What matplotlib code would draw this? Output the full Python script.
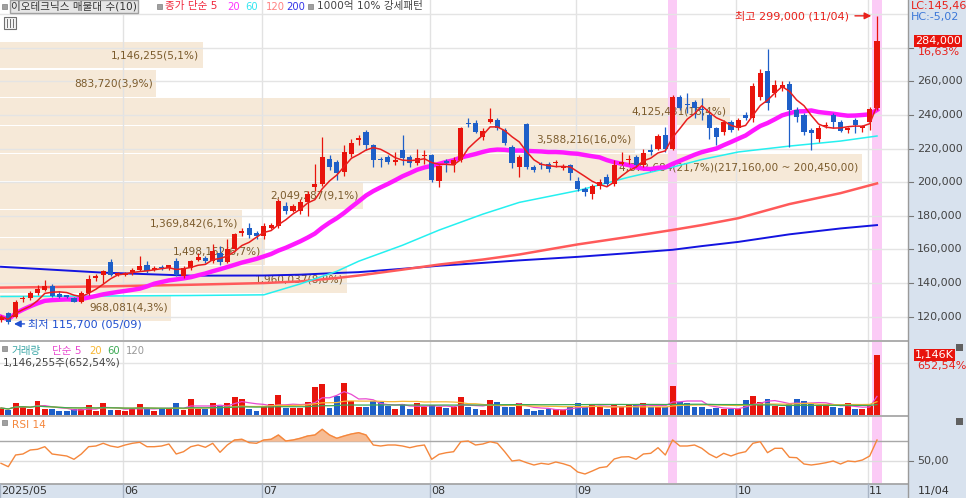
import numpy as np
import pandas as pd
import matplotlib
matplotlib.use("Agg")
import matplotlib.pyplot as plt
import matplotlib.transforms as mtransforms
from matplotlib.patches import Rectangle
from matplotlib.lines import Line2D

plt.rcParams['font.family'] = ['DejaVu Sans', 'Noto Sans CJK KR']

# ---- data (prices in thousand won, volume in thousand shares) ----
opens = [118, 122, 120, 130.5, 131, 134, 136, 138.5, 133.5, 132.5, 131, 129, 134, 143, 145, 152.7, 145, 145,
         146, 148, 151, 148, 149.5, 149, 153, 144, 149, 154, 155, 153, 158, 152.7, 160, 170, 172.7, 170,
         168, 173, 174, 186, 183, 183, 188, 197, 199, 214, 212, 206, 217, 225, 230, 222, 213.5, 215, 212,
         219, 215, 211.7, 215.5, 216, 200.5, 212.5, 210.5, 213, 235.5, 235, 227, 236, 237, 231, 221, 209,
         234.7, 209, 211, 211, 211.5, 208.5, 210, 201, 196, 193, 198, 203, 199, 211, 213, 215, 210.5, 219,
         220, 228, 220, 250.6, 246.8, 247.5, 243.5, 240, 232, 230, 236, 232, 240, 238, 251, 266, 253, 256,
         258.5, 243, 240, 231, 226, 233.5, 240, 236, 231, 237, 232.5, 235.7, 244]
highs = [121, 123, 130, 132.5, 135, 139, 142, 139.5, 135, 133, 132, 135, 145, 145.5, 148, 154.5, 146.5, 146.5,
         149, 156, 153, 150, 150.5, 151, 155, 150, 154, 158, 156, 163, 162, 166, 170, 173, 176, 171,
         176, 176, 190, 188, 187, 190, 195, 211, 227, 216, 213, 222, 226, 228, 231, 223, 215, 216, 218,
         228, 216, 220, 219, 217, 210.5, 214, 215, 233, 238, 237, 232, 244, 238, 232, 222, 216,
         235, 210, 212, 212, 213, 211, 211, 203, 197, 199, 202, 205, 213, 218, 216, 216, 220, 223,
         228.5, 233, 252, 252, 253, 249, 250, 241, 233, 237, 237, 238, 242, 259, 267.5, 279.5, 261, 260,
         260, 245, 241, 232, 234, 236, 241, 237, 233, 238, 234, 245, 299]
lows = [117, 115.7, 119, 129, 130, 133, 135, 132, 131, 131, 128.5, 128, 133, 141, 140, 144, 144, 144,
        145, 147, 146, 147, 148, 148, 144, 143, 148, 153, 152, 152, 151, 152, 159, 168, 167, 166,
        166, 172, 173, 181, 182, 181, 180, 195, 198, 207, 201.6, 204, 215, 222, 219, 209, 209, 211, 210,
        210, 209, 210, 211, 200, 197, 206, 206, 212, 233, 229, 225, 235, 231, 222, 208.7, 203,
        208, 206, 208, 206, 209, 207, 201.6, 195, 192, 190, 196, 198, 198, 210, 211, 209, 209, 216,
        219, 218, 219, 243, 241, 238, 237, 226, 222, 228, 230, 231, 237, 236, 249, 243, 251, 254,
        221, 236, 228, 219, 224, 232, 232, 230, 229, 229, 230, 231, 243]
closes = [120, 116.9, 129, 131, 134, 136.7, 138.5, 132.6, 132, 132, 129, 134, 142.6, 144, 147, 145, 145.8, 145.5,
          148, 150, 147, 149, 149, 150.5, 145, 149, 153, 155.5, 153, 159, 152.7, 160, 169, 171, 168.6, 168,
          174, 174.5, 188.7, 182.8, 185.7, 188, 193, 198.7, 215, 209, 205.7, 218, 223.5, 226.5, 222, 213, 213, 212, 213,
          214.6, 211.7, 214.6, 216, 201.6, 209.5, 211.5, 213, 232, 234.5, 230, 230.5, 237.6, 232, 223.5, 211.7, 215,
          209, 207.5, 210, 208, 212, 209.5, 205.7, 196, 194, 197.5, 200, 199, 210, 212, 213.5, 210.5, 217.6, 218,
          227.6, 219.5, 250.6, 244, 245.8, 244, 243, 232, 227, 236, 231, 237, 238, 257, 265, 247, 258, 257.6,
          243, 239, 230, 229, 232, 234, 236, 230.6, 232.5, 234, 233.5, 243.5, 284]
volumes = [134, 96, 229, 172, 115, 267, 115, 115, 76, 67, 115, 115, 191, 76, 229, 96, 96, 67,
           115, 210, 115, 76, 115, 115, 229, 96, 306, 115, 115, 229, 172, 229, 344, 306, 115, 76,
           172, 210, 382, 134, 134, 134, 248, 535, 592, 134, 363, 611, 267, 153, 153, 267, 248, 172, 115,
           210, 115, 229, 153, 191, 153, 134, 153, 344, 153, 115, 96, 287, 248, 153, 153, 229,
           115, 76, 96, 115, 115, 96, 153, 229, 153, 191, 153, 115, 191, 153, 191, 191, 229, 153,
           153, 153, 554, 248, 229, 153, 153, 115, 134, 115, 115, 115, 287, 363, 248, 306, 172, 153,
           210, 306, 267, 210, 191, 191, 153, 134, 229, 115, 115, 172, 1146.255]
rsi14 = [47.7, 44.3, 56, 57, 61, 61.7, 64.3, 57, 56, 55, 51.7, 57, 64.3, 65, 67.7, 65, 63.7, 66,
         67.7, 68.7, 64.3, 64.3, 65, 67, 57, 59.3, 64.3, 66, 63.7, 67.7, 58.7, 66, 71, 71.7, 68.3, 67.7,
         71, 71.7, 76, 70, 71, 72.7, 75, 76, 81.7, 76, 72.7, 75, 77, 78.3, 76, 66, 65, 66, 66,
         65, 63.3, 65, 66, 51.7, 56.7, 58.3, 59.3, 69.3, 70, 66, 67, 69.3, 67.7, 59.3, 50, 51,
         48.3, 46, 47.7, 46.7, 49, 47.3, 45, 39, 37, 40, 43.3, 44.3, 52, 54, 54.3, 51.7, 57, 57.7,
         63.3, 56, 71, 65, 65, 66, 62.7, 57, 53.3, 57.7, 55, 57.7, 59.3, 67.7, 69.3, 58.3, 62.7, 62.7,
         53.7, 53.3, 47, 46, 47, 48.3, 50, 47, 50, 49.3, 51, 55, 71]

# long moving averages (they need history before the window)
ma_idx = [0, 14, 26, 36, 41, 46, 49, 55, 60, 66, 71, 79, 86, 92, 96, 101, 108, 115, 120]
ma60_read = [132, 132.3, 132.6, 133, 139.5, 147, 153, 162.5, 171.5, 181, 188, 195, 203, 209, 213.5,
             218, 221.5, 224.5, 227.5]
ma120_read = [137.3, 138, 139, 140, 141, 143, 144.5, 148, 151, 154, 157, 163, 167.5, 171.6, 174.5,
              178.6, 187, 193.5, 199.3]
ma200_read = [149.7, 146.2, 144.4, 144.5, 145, 146, 146.5, 148.5, 150.3, 152, 153.5, 155.6, 157.8,
              159.8, 162, 164.5, 169, 172.5, 174.5]

# volume profile (매물대), bottom band first
band_top_range = (200450, 217160)
band_vol = [968081, 1960037, 1498152, 1369842, 2049287, 4872684, 3588216, 4125431, 883720, 1146255]
band_pct = [4.3, 8.8, 6.7, 6.1, 9.1, 21.7, 16.0, 18.4, 3.9, 5.1]

month_idx = [0, 17, 36, 59, 79, 101, 119]
month_lab = ['2025/05', '06', '07', '08', '09', '10', '11']
strong_idx = [92, 120]
low_idx, high_idx = 1, 120

o = np.array(opens) * 1000
h = np.array(highs) * 1000
l = np.array(lows) * 1000
c = np.array(closes) * 1000
v = np.array(volumes) * 1000
rsi = np.array(rsi14)
idx = np.arange(len(c))

UP, DN = '#E8140C', '#1E5FC8'
W, H = 966, 498
fig = plt.figure(figsize=(W / 100, H / 100), dpi=100)


def rect(x0, y0, x1, y1):
    return [x0 / W, 1 - y1 / H, (x1 - x0) / W, (y1 - y0) / H]


def ftext(x, y, s, **kw):
    kw.setdefault('fontsize', 8)
    fig.text(x / W, 1 - y / H, s, va='center', ha=kw.pop('ha', 'left'), **kw)


# background areas
fig.patches.append(Rectangle((908 / W, 0), 58 / W, 1, transform=fig.transFigure,
                             color='#D8E2EE', zorder=-5))
fig.patches.append(Rectangle((0, 0), 1, 14 / H, transform=fig.transFigure,
                             color='#D8E2EE', zorder=-5))

ax_p = fig.add_axes(rect(0, 0, 908, 340))
ax_v = fig.add_axes(rect(0, 342, 908, 415))
ax_r = fig.add_axes(rect(0, 417, 908, 483))
x_lo = -1 / 7.3
x_hi = x_lo + 908 / 7.3
for ax in (ax_p, ax_v, ax_r):
    ax.set_xlim(x_lo, x_hi)
    for s in ax.spines.values():
        s.set_visible(False)
    ax.set_xticks([])
    ax.set_yticks([])
    for m in month_idx[1:]:
        ax.axvline(m - 0.3, color='#E2E2E2', lw=1, zorder=1)
    for s in strong_idx:
        ax.axvspan(s - 0.62, s + 0.62, color='#FBCBF6', lw=0, zorder=0.6)

ax_p.set_ylim(106125, 308425)
ax_v.set_ylim(0, 1394000)
ax_r.set_ylim(28, 94)

# ---- price panel ----
for p in range(120000, 300001, 20000):
    ax_p.axhline(p, color='#E4E4E4', lw=1, zorder=1)

step = band_top_range[1] - band_top_range[0]
base = band_top_range[0] - 5 * step
centers = base + step * (np.arange(len(band_vol)) + 0.5)
widths = np.array(band_vol) / max(band_vol) * 118.1
ax_p.barh(centers, widths, height=step * 0.95, left=x_lo, color='#F6E9D8', zorder=0.5)
for cy, wd, vol, pc in zip(centers, widths, band_vol, band_pct):
    lab = f"{vol:,}({pc:.1f}%)".replace('.', ',')
    if vol == max(band_vol):
        lab += f"({band_top_range[1]:,}.00 ~ {band_top_range[0]:,}.00)".replace('.', ',')
    ax_p.text(x_lo + wd - 0.5, cy, lab, ha='right', va='center', fontsize=7.6,
              color='#7B5B2C', zorder=2)

ma5 = pd.Series(c).rolling(5, min_periods=1).mean()
ma20 = pd.Series(c).rolling(20, min_periods=1).mean()
ax_p.plot(np.array(ma_idx), np.array(ma200_read) * 1000, color='#1414E0', lw=1.4, zorder=3)
ax_p.plot(np.array(ma_idx), np.array(ma120_read) * 1000, color='#FF5A5A', lw=1.8, zorder=3)
ax_p.plot(np.array(ma_idx), np.array(ma60_read) * 1000, color='#25F0F0', lw=1.1, zorder=3)
ax_p.plot(idx, ma20, color='#FF19FF', lw=3.2, zorder=3.5)

up = c >= o
col = np.where(up, UP, DN)
ax_p.vlines(idx, l, h, colors=col, lw=0.9, zorder=4)
body = np.maximum(np.abs(c - o), 700)
ax_p.bar(idx, body, bottom=np.minimum(o, c), width=0.7, color=col, zorder=4.2)
ax_p.plot(idx, ma5, color='#E81E1E', lw=1.1, zorder=5)

# high / low markers
ax_p.annotate('', xy=(high_idx - 0.4, h[high_idx]), xytext=(high_idx - 3.4, h[high_idx]),
              arrowprops=dict(arrowstyle='-|>', color='#E8201A', lw=1), zorder=6)
ax_p.text(high_idx - 3.8, h[high_idx], f"최고 {h[high_idx]:,.0f} (11/04)", ha='right',
          va='center', fontsize=8, color='#E8201A', zorder=6)
ax_p.annotate('', xy=(low_idx + 0.4, l[low_idx]), xytext=(low_idx + 2.6, l[low_idx]),
              arrowprops=dict(arrowstyle='-|>', color='#2050D0', lw=1), zorder=6)
ax_p.text(low_idx + 2.7, l[low_idx], f"최저 {l[low_idx]:,.0f} (05/09)", ha='left',
          va='center', fontsize=8, color='#2050D0', zorder=6)

# right price axis
ytr = ax_p.get_yaxis_transform()
for p in range(120000, 280001, 20000):
    ax_p.plot([1.0, 1.006], [p, p], transform=ytr, clip_on=False, color='#777', lw=0.8)
    if p < 280000:
        ax_p.text(1.0 + 9 / 908, p, f"{p:,}", transform=ytr, ha='left', va='center',
                  fontsize=8, color='#444')
ax_p.text(1.0 + 7 / 908, c[-1], f"{c[-1]:,.0f}", transform=ytr, ha='left', va='center',
          fontsize=8, color='white',
          bbox=dict(facecolor='#E8140C', edgecolor='none', boxstyle='square,pad=0.12'))
chg = (c[-1] / c[-2] - 1) * 100
ax_p.annotate(f"{chg:.2f}%".replace('.', ','), xy=(1.0 + 10 / 908, c[-1]), xycoords=ytr,
              xytext=(0, -8), textcoords='offset points', ha='left', va='center',
              fontsize=8, color='#E8201A')

# ---- volume panel ----
ax_v.axhline(1000000, color='#E4E4E4', lw=1, zorder=1)
ax_v.bar(idx, v, width=0.82, color=col, zorder=3)
vs = pd.Series(v)
ax_v.plot(idx, vs.rolling(5, min_periods=1).mean(), color='#E84AD0', lw=0.9, zorder=4)
ax_v.plot(idx, vs.rolling(20, min_periods=1).mean(), color='#F7B733', lw=0.9, zorder=4)
ax_v.plot(idx, vs.rolling(60, min_periods=1).mean(), color='#3DAA55', lw=0.9, zorder=4)
vtr = ax_v.get_yaxis_transform()
ax_v.text(1.0 + 7 / 908, v[-1], f"{v[-1] / 1000:,.0f}K", transform=vtr, ha='left', va='center',
          fontsize=8, color='white',
          bbox=dict(facecolor='#E8140C', edgecolor='none', boxstyle='square,pad=0.12'))
ax_v.annotate("652,54%", xy=(1.0 + 9 / 908, v[-1]), xycoords=vtr, xytext=(0, -8),
              textcoords='offset points', ha='left', va='center', fontsize=8, color='#E8201A')

# ---- RSI panel ----
ax_r.axhline(70, color='#A8A8A8', lw=1, zorder=1)
ax_r.axhline(50, color='#DDDDDD', lw=1, zorder=1)
ax_r.fill_between(idx, 70, rsi, where=rsi > 70, interpolate=True, color='#F6BC94', zorder=2)
ax_r.plot(idx, rsi, color='#F5873C', lw=1, zorder=3)
rtr = ax_r.get_yaxis_transform()
ax_r.plot([1.0, 1.006], [50, 50], transform=rtr, clip_on=False, color='#777', lw=0.8)
ax_r.text(1.0 + 9 / 908, 50, "50,00", transform=rtr, ha='left', va='center', fontsize=8, color='#444')

# separators
for yy in (341, 416, 483.5):
    fig.lines.append(Line2D([0, 908 / W], [1 - yy / H] * 2, transform=fig.transFigure,
                            color='#A0A0A0', lw=1.2))
fig.lines.append(Line2D([908 / W] * 2, [0, 1], transform=fig.transFigure, color='#9A9A9A', lw=1))

# date axis
dtr = mtransforms.blended_transform_factory(ax_r.transData, fig.transFigure)
for m, lab in zip(month_idx, month_lab):
    xm = m - 0.3 if m else x_lo
    fig.lines.append(Line2D([xm, xm], [0, 14 / H], transform=dtr, color='#A8B4C4', lw=1))
    fig.text(xm + 0.2, 1 - 491 / H, lab, transform=dtr, ha='left', va='center',
             fontsize=8, color='#333')
ftext(918, 491, '11/04', fontsize=8, color='#333')


# legends
def bullet(x, y):
    fig.patches.append(Rectangle((x / W, 1 - (y + 3) / H), 5 / W, 5 / H, transform=fig.transFigure,
                                 facecolor='#A0A0A0', edgecolor='#808080', lw=0.5, zorder=5))


bullet(2, 6)
ftext(11, 6.5, '이오테크닉스 매물대 수(10)', color='#333', fontsize=7.6,
      bbox=dict(facecolor='#E6E6E6', edgecolor='#A0A0A0', boxstyle='square,pad=0.12'))
bullet(157, 6)
ftext(165, 6.5, '종가 단순 5', color='#F0283C', fontsize=7.6)
ftext(227, 6.5, '20', color='#FF33FF', fontsize=7.2)
ftext(245, 6.5, '60', color='#33E6F0', fontsize=7.2)
ftext(266, 6.5, '120', color='#FF8080', fontsize=7.2)
ftext(286, 6.5, '200', color='#3535E8', fontsize=7.2)
bullet(308, 6)
ftext(317, 6.5, '1000억 10% 강세패턴', color='#444', fontsize=7.6)
fig.patches.append(Rectangle((4 / W, 1 - 29 / H), 12 / W, 12 / H, transform=fig.transFigure,
                             facecolor='#F4F4F4', edgecolor='#707070', lw=0.8, zorder=5))
for xx in (7, 10, 13):
    fig.lines.append(Line2D([xx / W] * 2, [1 - 27 / H, 1 - 19 / H], transform=fig.transFigure,
                            color='#707070', lw=0.7, zorder=6))

ftext(911, 6, 'LC:145,46', color='#E8201A')
ftext(911, 17, 'HC:-5,02', color='#3C78D8')

bullet(2, 348)
ftext(12, 351, '거래량', color='#3AA6A6', fontsize=7.6)
ftext(52, 351, '단순 5', color='#E84AD0', fontsize=7.6)
ftext(89, 351, '20', color='#F7B733', fontsize=7.2)
ftext(107, 351, '60', color='#3DAA55', fontsize=7.2)
ftext(126, 351, '120', color='#999999', fontsize=7.2)
ftext(3, 362, f"{v[-1]:,.0f}주(652,54%)", color='#444', fontsize=7.6)

bullet(2, 422)
ftext(12, 425, 'RSI 14', color='#F5873C', fontsize=7.6)

for yy in (347, 421):
    fig.patches.append(Rectangle((956 / W, 1 - (yy + 4) / H), 7 / W, 7 / H, transform=fig.transFigure,
                                 facecolor='#606060', edgecolor='none', zorder=5))

fig.savefig('out.png', dpi=100)
